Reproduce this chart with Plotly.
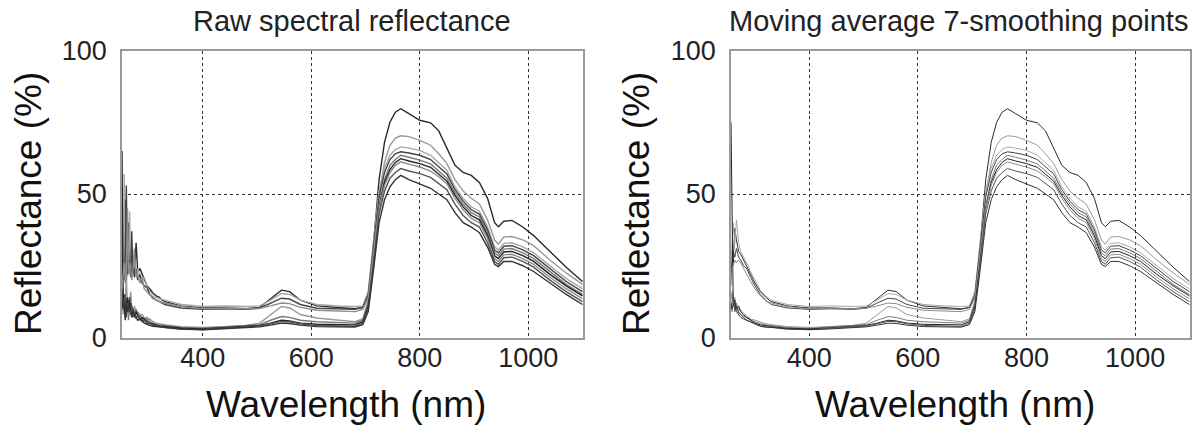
import plotly.graph_objects as go

# ---------------- data ----------------
WL_MAIN = [330, 360, 400, 440, 480, 505, 525, 545, 560, 580, 610, 650, 680, 695, 705, 715, 725,
           735, 745, 755, 765, 780, 800, 820, 835, 850, 865, 880, 895, 910, 925, 938, 945, 955,
           970, 990, 1010, 1040, 1070, 1100]

S1 = [12.5, 11, 10.3, 10.3, 10, 10.5, 13.5, 16.5, 16, 13, 11, 10.5, 10, 10.5, 14, 33, 55, 68, 75, 78.5,
      79.7, 78, 75.7, 74.8, 72, 66, 60, 57.5, 56.5, 54, 48.5, 40, 38.6, 40.5, 40.8, 38.5, 35.5, 30, 24.5, 19.5]
S2 = [4.5, 3.8, 3.5, 3.8, 4.2, 5, 8, 10.8, 10.3, 8, 6.8, 6, 5.5, 6.5, 13, 31, 50, 61, 67, 69.5,
      70.3, 70, 68.7, 67, 64, 60.6, 55, 51, 48.5, 46.5, 41, 34, 32.5, 35, 35.2, 34, 32, 27, 22.5, 18.5]
S3 = [13, 11.5, 10.8, 11, 10.8, 11, 13, 15.3, 15, 13, 11.5, 11, 10.8, 11, 16, 34, 51, 59, 63.5, 65.5,
      66.4, 66, 65.2, 63.5, 61, 58.3, 52.5, 48.5, 45.5, 44, 38.5, 31.6, 30.5, 32.8, 33, 31.6, 29.5, 25, 20.5, 17]
S4 = [11.5, 10.3, 9.8, 10, 9.8, 10.2, 12, 13.7, 13.4, 11.5, 10.2, 10, 9.8, 10.5, 15, 32, 49, 57.5, 62, 64,
      64.7, 64.3, 63.5, 62, 59.5, 57, 51.5, 47.5, 44.5, 43, 37.5, 30.5, 29.5, 31.8, 32, 30.5, 28.5, 24, 19.5, 16]
S5 = [4.2, 3.5, 3.2, 3.6, 4, 4.5, 6, 7.3, 7, 6, 5.5, 5.2, 5, 6, 12, 29, 46, 55, 60, 62,
      63.5, 62.8, 61.8, 60.5, 58, 55.5, 50.5, 46.5, 43.5, 42, 36.5, 29.5, 28.5, 30.8, 31, 29.5, 27.5, 23, 18.5, 15]
S6 = [3.8, 3.2, 3, 3.4, 3.8, 4.2, 5, 6, 5.8, 5, 4.6, 4.5, 4.4, 5.5, 11, 28, 45, 54, 58.5, 61,
      62.3, 61.5, 60.6, 59.3, 57, 54.5, 49.5, 45.5, 42.5, 41, 35.5, 28.5, 27.5, 29.8, 30, 28.5, 26.5, 22, 18, 14.5]
S7 = [12, 10.8, 10, 10.2, 10, 10.2, 11, 12, 11.8, 10.5, 9.5, 9.2, 9, 9.8, 14, 30, 45, 53, 57.5, 60,
      61.2, 60.4, 59.4, 58, 56, 53.6, 48.5, 44.5, 41.5, 40, 34.5, 27.5, 26.5, 28.8, 29, 27.5, 25.5, 21, 17, 13.5]
S8 = [3.5, 2.9, 2.8, 3.2, 3.6, 4, 4.8, 5.6, 5.5, 4.8, 4.2, 4, 3.9, 5, 10, 26, 43, 51, 55.5, 57.5,
      58.9, 58, 57.1, 55.8, 53.5, 51.5, 46.5, 42.5, 40, 38.5, 33, 26.5, 25.5, 27.8, 28, 26.5, 24.5, 20, 16, 12.5]
S9 = [3.6, 3, 2.7, 3, 3.4, 3.7, 4.3, 5, 4.9, 4.3, 3.8, 3.6, 3.6, 4.5, 9, 24, 40, 48, 52.5, 55,
      56.5, 55, 53.6, 52, 50, 48, 43.5, 40, 38.5, 36.5, 31.5, 25.5, 24.7, 26.5, 26.5, 25, 23, 19, 15, 11.5]

# raw spectra, noisy UV end (left panel)
WL_RAW_UV = [251, 253, 255, 257, 259, 261, 263, 265, 267, 269, 271, 274, 277, 280, 284, 288, 292, 297,
             302, 308, 314, 320, 325]
RAW_UV_S1 = [19, 35, 22, 48, 20, 26, 40, 24, 30, 22, 27, 21, 33, 23, 24, 22, 20, 18, 17, 15.5, 14.5, 14, 13]
RAW_UV_S2 = [15, 8, 14, 12, 22, 10, 13, 11, 16, 10, 9, 11, 8, 9, 7.5, 8, 7, 6, 6.5, 5.5, 5, 4.8, 4.6]
RAW_UV_S3 = [22, 15, 57, 21, 25, 30, 23, 44, 26, 24, 29, 25, 22, 24, 21, 20, 21, 18, 16, 15, 14, 13.5, 13.2]
RAW_UV_S4 = [18, 24, 20, 28, 53, 22, 27, 25, 21, 37, 23, 22, 24, 20, 22, 19, 18, 17.5, 15, 14, 13, 12.5, 12]
RAW_UV_S5 = [12, 16, 9, 14, 11, 13, 6, 12, 10, 11, 8, 9, 10, 7, 8, 6.5, 6, 7, 5.5, 5, 4.5, 4.4, 4.3]
RAW_UV_S6 = [65, 13, 15, 8, 12, 14, 11, 9, 12, 8, 10, 7, 9, 8, 6, 7, 6.5, 5.5, 5, 4.6, 4.2, 4, 3.9]
RAW_UV_S7 = [17, 21, 26, 19, 23, 45, 22, 26, 24, 20, 23, 31, 21, 22, 19, 21, 17, 16, 15, 13.5, 13, 12.5, 12.2]
RAW_UV_S8 = [14, 10, 12, 15, 7, 11, 12, 10, 8, 11, 7, 9, 6.5, 8, 7, 5.5, 6, 5, 4.8, 4.2, 3.9, 3.7, 3.6]
RAW_UV_S9 = [10, 13, 11, 6, 13, 9, 10, 14, 9, 7, 9, 8, 7, 6, 6.5, 6, 5, 4.5, 4.2, 3.9, 3.8, 3.7, 3.6]

# smoothed spectra, UV end (right panel)
WL_SM_UV = [256, 258, 260, 263, 266, 270, 274, 279, 285, 292, 300, 310, 320]
SM_UV_S1 = [22, 30, 26, 38, 34, 30, 29, 27, 25, 22, 19, 16, 14]
SM_UV_S2 = [13, 16, 12, 14, 11, 10, 9.5, 8.5, 7.5, 6.5, 6, 5.2, 4.8]
SM_UV_S3 = [25, 35, 40, 33, 41, 33, 30, 28, 26, 23, 20, 16.5, 14.5]
SM_UV_S4 = [20, 26, 30, 28, 31, 28, 27, 25, 24, 21, 18, 15, 13]
SM_UV_S5 = [11, 9, 13, 10, 12, 9, 8, 7.5, 7, 6, 5.5, 4.8, 4.4]
SM_UV_S6 = [75, 50, 14, 12, 10, 11, 9, 8, 7, 6.2, 5, 4.4, 4]
SM_UV_S7 = [18, 24, 25, 27, 26, 27, 26, 24, 22, 19.5, 17, 14.5, 12.8]
SM_UV_S8 = [10, 12, 15, 9, 11, 8.5, 8, 7, 6, 5.5, 4.8, 4, 3.7]
SM_UV_S9 = [12, 10, 11, 13, 9, 8, 7, 6.5, 6, 5.2, 4.5, 3.9, 3.6]

X_TICKS = [400, 600, 800, 1000]
Y_TICKS = [0, 50, 100]

MAIN = [S1, S2, S3, S4, S5, S6, S7, S8, S9]
RAW_UV = [RAW_UV_S1, RAW_UV_S2, RAW_UV_S3, RAW_UV_S4, RAW_UV_S5, RAW_UV_S6, RAW_UV_S7, RAW_UV_S8, RAW_UV_S9]
SM_UV = [SM_UV_S1, SM_UV_S2, SM_UV_S3, SM_UV_S4, SM_UV_S5, SM_UV_S6, SM_UV_S7, SM_UV_S8, SM_UV_S9]
COLORS = ["#2a2a2a", "#9a9a9a", "#a8a8a8", "#444444", "#7a7a7a", "#222222", "#8c8c8c", "#555555", "#333333"]

# ---------------- figure ----------------
W, H = 1204, 432
fig = go.Figure()

for main, uv, col in zip(MAIN, RAW_UV, COLORS):
    fig.add_trace(go.Scatter(x=WL_RAW_UV + WL_MAIN, y=uv + main, mode="lines",
                             line=dict(color=col, width=1.4), xaxis="x", yaxis="y",
                             showlegend=False, hoverinfo="skip"))
for main, uv, col in zip(MAIN, SM_UV, COLORS):
    fig.add_trace(go.Scatter(x=WL_SM_UV + WL_MAIN, y=uv + main, mode="lines",
                             line=dict(color=col, width=1), xaxis="x2", yaxis="y2",
                             showlegend=False, hoverinfo="skip"))

FONT = "Liberation Sans, Arial, sans-serif"
axis_common = dict(showline=True, mirror=True, linecolor="#9a9a9a", linewidth=1.5,
                   showgrid=True, gridcolor="#333333", griddash="dot", gridwidth=1,
                   zeroline=False, ticks="", automargin=False,
                   tickfont=dict(family=FONT, size=27, color="#222"))

def px(x):
    return x / W

def py(y):
    return 1 - y / H

fig.update_layout(
    width=W, height=H,
    margin=dict(l=0, r=0, t=0, b=0, pad=0, autoexpand=False),
    paper_bgcolor="white", plot_bgcolor="white",
    xaxis=dict(domain=[px(122), px(583)], range=[251, 1101], tickvals=X_TICKS, anchor="y",
               ticklabelstandoff=-5, **axis_common),
    yaxis=dict(domain=[py(337.5), py(50.5)], range=[0, 100], tickvals=Y_TICKS, anchor="x",
               ticklabelstandoff=8, **axis_common),
    xaxis2=dict(domain=[px(731), px(1190)], range=[256, 1101], tickvals=X_TICKS, anchor="y2",
                ticklabelstandoff=-5, **axis_common),
    yaxis2=dict(domain=[py(337.5), py(50.5)], range=[0, 100], tickvals=Y_TICKS, anchor="x2",
                ticklabelstandoff=8, **axis_common),
)

ann = []
for cx, title in [(352, "Raw spectral reflectance"), (958, "Moving average 7-smoothing points")]:
    ann.append(dict(x=px(cx), y=py(21), xref="paper", yref="paper", text=title, showarrow=False,
                    xanchor="center", yanchor="middle", font=dict(family=FONT, size=29, color="#222")))
for cx in [346, 955]:
    ann.append(dict(x=px(cx), y=py(404), xref="paper", yref="paper", text="Wavelength (nm)",
                    showarrow=False, xanchor="center", yanchor="middle",
                    font=dict(family=FONT, size=37, color="#111")))
for cx in [28, 636]:
    ann.append(dict(x=px(cx), y=py(204), xref="paper", yref="paper", text="Reflectance (%)",
                    showarrow=False, xanchor="center", yanchor="middle", textangle=-90,
                    font=dict(family=FONT, size=37, color="#111")))
fig.update_layout(annotations=ann)

fig.write_html("out.html")
